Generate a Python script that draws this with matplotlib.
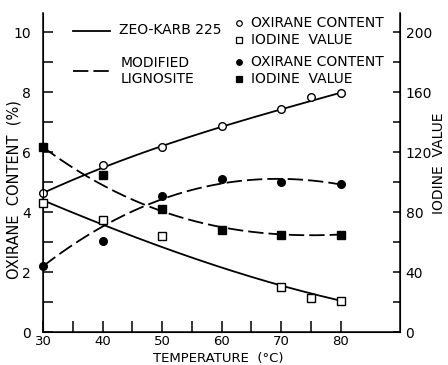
import numpy as np
import matplotlib
matplotlib.use("Agg")
import matplotlib.pyplot as plt

# Zeo-Karb 225 catalyst
zk_temp = [30, 40, 50, 60, 70, 75, 80]
zk_oxirane = [4.63, 5.58, 6.17, 6.89, 7.43, 7.83, 7.99]
zk_iod_temp = [30, 40, 50, 70, 75, 80]
zk_iodine = [86, 75, 64, 30, 23, 21]

# modified lignosite catalyst
lig_temp = [30, 40, 50, 60, 70, 80]
lig_oxirane = [2.22, 3.03, 4.53, 5.12, 5.01, 4.93]
lig_iodine = [123.5, 105, 82, 68, 65, 65]

# smooth curves drawn through the points
curve_temp = [30, 40, 50, 60, 70, 80]
zk_oxirane_curve = [4.63, 5.52, 6.17, 6.85, 7.45, 7.98]
zk_iodine_curve = [88, 71.5, 57, 43, 31, 21]
lig_oxirane_curve = [2.2, 3.5, 4.45, 4.96, 5.1, 4.93]
lig_iodine_curve = [123.5, 98, 81, 69.5, 65.5, 65]

FS = 10
LW = 1.3
DASH = (8.5, 2.8)

fig = plt.figure(figsize=(4.48, 3.65), dpi=100)
ax = fig.add_axes([43 / 448, 1 - 332 / 365, 357 / 448, 319 / 365])
ax2 = ax.twinx()


def smooth(x, y, deg=3):
    p = np.polyfit(x, y, deg)
    xs = np.linspace(min(x), max(x), 200)
    return xs, np.polyval(p, xs)


xs, ys = smooth(curve_temp, zk_oxirane_curve)
ax.plot(xs, ys, color="black", lw=LW)
xs, ys = smooth(curve_temp, lig_oxirane_curve)
ax.plot(xs, ys, color="black", lw=LW, dashes=DASH)
xs, ys = smooth(curve_temp, zk_iodine_curve)
ax2.plot(xs, ys, color="black", lw=LW)
xs, ys = smooth(curve_temp, lig_iodine_curve)
ax2.plot(xs, ys, color="black", lw=LW, dashes=DASH)

ax.plot(zk_temp, zk_oxirane, "o", ms=5.5, mfc="white", mec="black", mew=1.0, clip_on=False, zorder=5)
ax.plot(lig_temp, lig_oxirane, "o", ms=5.5, mfc="black", mec="black", clip_on=False, zorder=5)
ax2.plot(zk_iod_temp, zk_iodine, "s", ms=5.5, mfc="white", mec="black", mew=1.0, clip_on=False, zorder=5)
ax2.plot(lig_temp, lig_iodine, "s", ms=5.5, mfc="black", mec="black", clip_on=False, zorder=5)

ax.set_xlim(30, 90)
ax.set_ylim(0, 10.65)
ax2.set_ylim(0, 213)

ax.set_xticks(range(30, 81, 10))
ax.set_xticks(range(35, 80, 10), minor=True)
ax.set_yticks(range(0, 11, 2))
ax.set_yticks(range(1, 11, 2), minor=True)
ax2.set_yticks(range(0, 201, 40))
ax2.set_yticks(range(20, 200, 40), minor=True)

ax.tick_params(which="both", direction="in", width=1.1, labelsize=FS)
ax.tick_params(axis="x", which="both", length=8, pad=2.5, labelsize=9.5)
ax.tick_params(axis="y", which="both", length=7, pad=8.5)
ax2.tick_params(which="both", direction="in", length=5, width=1.1, labelsize=FS, pad=4)

ax.spines["top"].set_visible(False)
ax2.spines["top"].set_visible(False)
for s in ["left", "bottom"]:
    ax.spines[s].set_linewidth(1.1)
ax2.spines["right"].set_linewidth(1.1)

fig.text(218 / 448, 0.0, "TEMPERATURE  (\u00b0C)", ha="center", va="bottom", fontsize=9.5)
fig.text(14 / 448, 1 - 190 / 365, "OXIRANE  CONTENT  (%)", ha="center", va="center", rotation=90, fontsize=10.5)
fig.text(439 / 448, 1 - 163 / 365, "IODINE  VALUE", ha="center", va="center", rotation=90, fontsize=FS)

# key, top left of the plot
T = ax.transAxes
ax.plot([0.084, 0.188], [0.9445, 0.9445], color="black", lw=LW, transform=T)
ax.plot([0.084, 0.188], [0.819, 0.819], color="black", lw=LW, dashes=DASH, transform=T)
ax.text(0.213, 0.948, "ZEO-KARB 225", transform=T, ha="left", va="center", fontsize=FS)
ax.text(0.218, 0.843, "MODIFIED", transform=T, ha="left", va="center", fontsize=FS)
ax.text(0.218, 0.793, "LIGNOSITE", transform=T, ha="left", va="center", fontsize=FS)

key = [("o", "white", 0.969, "OXIRANE CONTENT"),
       ("s", "white", 0.916, "IODINE  VALUE"),
       ("o", "black", 0.845, "OXIRANE CONTENT"),
       ("s", "black", 0.793, "IODINE  VALUE")]
for m, fc, y, label in key:
    ax.plot([0.549], [y], m, ms=4, mfc=fc, mec="black", mew=0.9, transform=T, clip_on=False)
    ax.text(0.583, y, label, transform=T, ha="left", va="center", fontsize=FS)

fig.savefig("out.png", dpi=100)
